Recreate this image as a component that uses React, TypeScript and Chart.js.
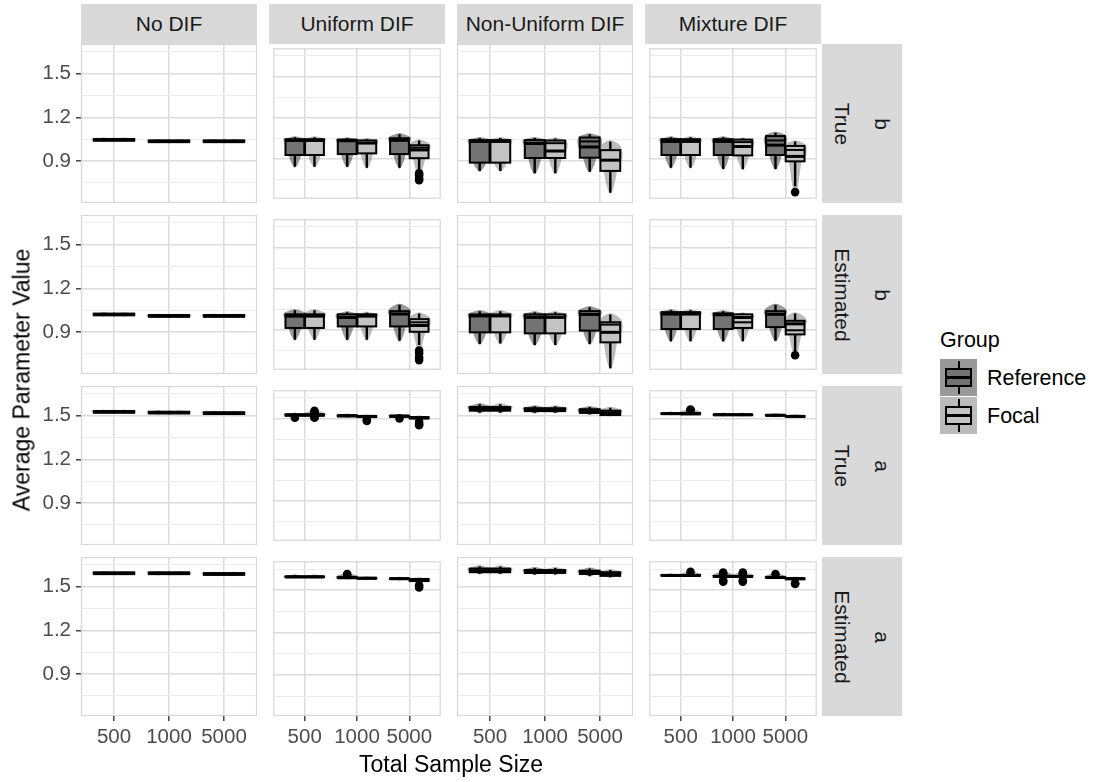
import React, { useEffect, useRef } from 'react';
import { Chart, registerables } from 'chart.js';

Chart.register(...registerables);

const FONT = '"Liberation Sans", Arial, Helvetica, sans-serif';
Chart.defaults.font.family = FONT;

// ---------- categories & labels ----------
const sampleSizes = ['500', '1000', '5000'];
const difTypes = ['No DIF', 'Uniform DIF', 'Non-Uniform DIF', 'Mixture DIF'];
const rowSources = ['True', 'Estimated', 'True', 'Estimated'];
const rowParams = ['b', 'b', 'a', 'a'];
const groupNames = ['Reference', 'Focal'];
const yMajorTicks = [0.9, 1.2, 1.5];
const yTickLabels = ['0.9', '1.2', '1.5'];
const yMinorTicks = [0.75, 1.05, 1.35, 1.65];
const yLimits = [0.61, 1.705];

// ---------- box statistics: [lower whisker, Q1, median, Q3, upper whisker] per sample size ----------
// True b
const tbNoDifRef = [[1.037, 1.039, 1.045, 1.051, 1.053], [1.027, 1.029, 1.035, 1.041, 1.043], [1.027, 1.029, 1.035, 1.041, 1.043]];
const tbNoDifFocal = [[1.037, 1.039, 1.045, 1.051, 1.053], [1.027, 1.029, 1.035, 1.041, 1.043], [1.027, 1.029, 1.035, 1.041, 1.043]];
const tbUniformRef = [[0.842, 0.928, 1.034, 1.043, 1.057], [0.842, 0.935, 1.032, 1.040, 1.050], [0.835, 0.935, 1.035, 1.050, 1.080]];
const tbUniformFocal = [[0.842, 0.928, 1.034, 1.043, 1.057], [0.835, 0.940, 1.015, 1.034, 1.045], [0.810, 0.905, 0.965, 0.999, 1.034]];
const tbUniformFocalMean = [null, null, 0.982];
const tbUniformFocalOut = [[], [], [0.795, 0.78, 0.76, 0.745]];
const tbNonUniformRef = [[0.831, 0.888, 1.034, 1.043, 1.057], [0.815, 0.920, 1.020, 1.043, 1.057], [0.826, 0.922, 0.996, 1.061, 1.083]];
const tbNonUniformRefMean = [null, null, 1.034];
const tbNonUniformFocal = [[0.831, 0.888, 1.034, 1.043, 1.057], [0.815, 0.920, 0.968, 1.040, 1.055], [0.680, 0.831, 0.905, 0.974, 1.034]];
const tbNonUniformFocalMean = [null, 1.022, null];
const tbMixtureRef = [[0.835, 0.928, 1.027, 1.043, 1.057], [0.826, 0.928, 1.027, 1.043, 1.057], [0.826, 0.928, 1.000, 1.066, 1.090]];
const tbMixtureRefMean = [null, null, 1.034];
const tbMixtureFocal = [[0.835, 0.928, 1.027, 1.043, 1.057], [0.825, 0.925, 0.990, 1.040, 1.048], [0.700, 0.882, 0.918, 0.994, 1.027]];
const tbMixtureFocalMean = [null, 1.022, 0.965];
const tbMixtureFocalOut = [[], [], [0.658]];

// Estimated b
const ebNoDifRef = [[1.012, 1.014, 1.020, 1.026, 1.028], [1.002, 1.004, 1.010, 1.016, 1.018], [1.002, 1.004, 1.010, 1.016, 1.018]];
const ebNoDifFocal = [[1.012, 1.014, 1.020, 1.026, 1.028], [1.002, 1.004, 1.010, 1.016, 1.018], [1.002, 1.004, 1.010, 1.016, 1.018]];
const ebUniformRef = [[0.828, 0.914, 1.000, 1.013, 1.043], [0.828, 0.925, 0.990, 1.013, 1.029], [0.820, 0.925, 1.015, 1.036, 1.082]];
const ebUniformFocal = [[0.828, 0.914, 1.000, 1.013, 1.043], [0.828, 0.925, 1.000, 1.013, 1.025], [0.790, 0.886, 0.932, 0.978, 1.020]];
const ebUniformFocalMean = [null, null, 0.955];
const ebUniformFocalOut = [[], [], [0.75, 0.73, 0.70, 0.68]];
const ebNonUniformRef = [[0.817, 0.897, 1.010, 1.020, 1.043], [0.810, 0.890, 1.000, 1.020, 1.036], [0.817, 0.909, 1.020, 1.043, 1.070]];
const ebNonUniformFocal = [[0.820, 0.897, 1.010, 1.020, 1.043], [0.810, 0.890, 1.000, 1.020, 1.036], [0.650, 0.828, 0.897, 0.966, 1.020]];
const ebNonUniformFocalMean = [null, null, 0.950];
const ebMixtureRef = [[0.817, 0.906, 1.015, 1.029, 1.043], [0.817, 0.906, 1.010, 1.020, 1.036], [0.820, 0.920, 1.013, 1.036, 1.082]];
const ebMixtureFocal = [[0.817, 0.906, 1.015, 1.029, 1.043], [0.817, 0.914, 0.990, 1.013, 1.020], [0.740, 0.867, 0.944, 0.966, 1.020]];
const ebMixtureFocalMean = [null, 0.955, 0.897];
const ebMixtureFocalOut = [[], [], [0.715]];

// True a
const taNoDifRef = [[1.519, 1.521, 1.527, 1.533, 1.535], [1.514, 1.516, 1.522, 1.528, 1.530], [1.510, 1.512, 1.518, 1.524, 1.526]];
const taNoDifFocal = [[1.519, 1.521, 1.527, 1.533, 1.535], [1.514, 1.516, 1.522, 1.528, 1.530], [1.510, 1.512, 1.518, 1.524, 1.526]];
const taUniformRef = [[1.515, 1.520, 1.525, 1.530, 1.535], [1.510, 1.515, 1.520, 1.523, 1.527], [1.508, 1.512, 1.517, 1.520, 1.525]];
const taUniformRefOut = [[1.505], [], [1.500]];
const taUniformFocal = [[1.515, 1.520, 1.525, 1.530, 1.540], [1.505, 1.510, 1.515, 1.518, 1.520], [1.495, 1.500, 1.505, 1.510, 1.515]];
const taUniformFocalOut = [[1.555, 1.545, 1.510, 1.505], [1.490, 1.482], [1.475, 1.460, 1.450]];
const taNonUniformRef = [[1.520, 1.535, 1.548, 1.560, 1.580], [1.520, 1.532, 1.540, 1.552, 1.565], [1.510, 1.520, 1.525, 1.545, 1.560]];
const taNonUniformRefMean = [null, null, 1.535];
const taNonUniformFocal = [[1.520, 1.535, 1.548, 1.560, 1.580], [1.520, 1.532, 1.540, 1.552, 1.565], [1.500, 1.505, 1.520, 1.535, 1.555]];
const taMixtureRef = [[1.528, 1.532, 1.535, 1.538, 1.542], [1.520, 1.524, 1.527, 1.530, 1.535], [1.515, 1.520, 1.523, 1.526, 1.530]];
const taMixtureFocal = [[1.525, 1.530, 1.535, 1.540, 1.545], [1.520, 1.524, 1.527, 1.530, 1.535], [1.508, 1.512, 1.515, 1.518, 1.525]];
const taMixtureFocalOut = [[1.565, 1.560], [], []];

// Estimated a
const eaNoDifRef = [[1.585, 1.587, 1.593, 1.599, 1.601], [1.585, 1.587, 1.593, 1.599, 1.601], [1.580, 1.582, 1.588, 1.594, 1.596]];
const eaNoDifFocal = [[1.585, 1.587, 1.593, 1.599, 1.601], [1.585, 1.587, 1.593, 1.599, 1.601], [1.580, 1.582, 1.588, 1.594, 1.596]];
const eaUniformRef = [[1.588, 1.592, 1.595, 1.598, 1.605], [1.582, 1.586, 1.589, 1.592, 1.597], [1.575, 1.579, 1.582, 1.585, 1.588]];
const eaUniformRefOut = [[], [1.615, 1.610], []];
const eaUniformFocal = [[1.588, 1.592, 1.595, 1.598, 1.605], [1.578, 1.582, 1.585, 1.588, 1.592], [1.560, 1.565, 1.570, 1.580, 1.585]];
const eaUniformFocalOut = [[], [], [1.535, 1.520]];
const eaNonUniformRef = [[1.590, 1.600, 1.610, 1.625, 1.640], [1.585, 1.595, 1.605, 1.615, 1.630], [1.575, 1.588, 1.598, 1.610, 1.625]];
const eaNonUniformFocal = [[1.590, 1.600, 1.610, 1.625, 1.640], [1.585, 1.595, 1.605, 1.615, 1.630], [1.565, 1.575, 1.590, 1.600, 1.615]];
const eaMixtureRef = [[1.598, 1.602, 1.605, 1.608, 1.612], [1.590, 1.595, 1.598, 1.601, 1.605], [1.585, 1.588, 1.590, 1.593, 1.598]];
const eaMixtureRefOut = [[], [1.625, 1.615, 1.570, 1.560], [1.615]];
const eaMixtureFocal = [[1.598, 1.602, 1.605, 1.608, 1.615], [1.590, 1.595, 1.598, 1.601, 1.605], [1.575, 1.578, 1.582, 1.585, 1.590]];
const eaMixtureFocalOut = [[1.630], [1.625, 1.615, 1.570, 1.560], [1.550, 1.545]];

type GroupSeries = { stats: number[][]; out?: number[][]; mean?: (number | null)[] };
type PanelSpec = [GroupSeries, GroupSeries];

// rows: True b, Estimated b, True a, Estimated a; columns follow difTypes
const panelGrid: PanelSpec[][] = [
  [
    [{ stats: tbNoDifRef }, { stats: tbNoDifFocal }],
    [{ stats: tbUniformRef }, { stats: tbUniformFocal, out: tbUniformFocalOut, mean: tbUniformFocalMean }],
    [{ stats: tbNonUniformRef, mean: tbNonUniformRefMean }, { stats: tbNonUniformFocal, mean: tbNonUniformFocalMean }],
    [{ stats: tbMixtureRef, mean: tbMixtureRefMean }, { stats: tbMixtureFocal, out: tbMixtureFocalOut, mean: tbMixtureFocalMean }],
  ],
  [
    [{ stats: ebNoDifRef }, { stats: ebNoDifFocal }],
    [{ stats: ebUniformRef }, { stats: ebUniformFocal, out: ebUniformFocalOut, mean: ebUniformFocalMean }],
    [{ stats: ebNonUniformRef }, { stats: ebNonUniformFocal, mean: ebNonUniformFocalMean }],
    [{ stats: ebMixtureRef }, { stats: ebMixtureFocal, out: ebMixtureFocalOut, mean: ebMixtureFocalMean }],
  ],
  [
    [{ stats: taNoDifRef }, { stats: taNoDifFocal }],
    [{ stats: taUniformRef, out: taUniformRefOut }, { stats: taUniformFocal, out: taUniformFocalOut }],
    [{ stats: taNonUniformRef, mean: taNonUniformRefMean }, { stats: taNonUniformFocal }],
    [{ stats: taMixtureRef }, { stats: taMixtureFocal, out: taMixtureFocalOut }],
  ],
  [
    [{ stats: eaNoDifRef }, { stats: eaNoDifFocal }],
    [{ stats: eaUniformRef, out: eaUniformRefOut }, { stats: eaUniformFocal, out: eaUniformFocalOut }],
    [{ stats: eaNonUniformRef }, { stats: eaNonUniformFocal }],
    [{ stats: eaMixtureRef, out: eaMixtureRefOut }, { stats: eaMixtureFocal, out: eaMixtureFocalOut }],
  ],
];

// ---------- styling ----------
const boxFills = ['#737373', '#c3c3c3'];
const violinFills = ['rgba(51,51,51,0.5)', 'rgba(120,120,120,0.5)'];
const dodge = [-0.1875, 0.1875];
const BOX_HALF = 0.18;
const VIOLIN_HALF = 0.23;
const GRID_MAJOR = '#dcdcdc';
const GRID_MINOR = '#ececec';
const PANEL_BORDER = '#d6d6d6';
const STRIP_BG = '#d9d9d9';

// ---------- layout ----------
const PANEL_X0 = 81;
const PANEL_Y0 = 44;
const PANEL_W = 176;
const PANEL_H = 159;
const GAP_X = 12;
const GAP_Y = 12;
const Y_AXIS_W = 81;
const X_AXIS_H = 50;
const panelLeft = (c: number) => PANEL_X0 + c * (PANEL_W + GAP_X);
const panelTop = (r: number) => PANEL_Y0 + r * (PANEL_H + GAP_Y);

// half-width profile of a violin (value, fraction of max half-width), top to bottom
function violinOutline(stats: number[], outs: number[]): [number, number][] {
  const [lo, q1, med, q3, hi] = stats;
  const ext = [lo, hi, ...outs];
  const top = Math.max(...ext);
  const bot = Math.min(...ext);
  const peak = q3 - (q3 - med) * 0.3;
  const raw: [number, number][] = [
    [top, 0.35],
    [(top + q3) / 2, 0.85],
    [peak, 1],
    [med, 0.92],
    [(med + q1) / 2, 0.7],
    [q1, 0.52],
    [(q1 + lo) / 2, 0.38],
    [lo, 0.24],
    [bot, 0.1],
  ];
  const pts: [number, number][] = [];
  for (const p of raw) {
    if (!pts.length || pts[pts.length - 1][0] - p[0] > 1e-4) pts.push([p[0], p[1]]);
  }
  pts[pts.length - 1][1] = Math.min(pts[pts.length - 1][1], 0.12);
  return pts;
}

function smoothClosed(ctx: CanvasRenderingContext2D, P: [number, number][]) {
  const n = P.length;
  const mid = (a: [number, number], b: [number, number]) => [(a[0] + b[0]) / 2, (a[1] + b[1]) / 2];
  const m0 = mid(P[n - 1], P[0]);
  ctx.beginPath();
  ctx.moveTo(m0[0], m0[1]);
  for (let i = 0; i < n; i++) {
    const next = P[(i + 1) % n];
    const m = mid(P[i], next);
    ctx.quadraticCurveTo(P[i][0], P[i][1], m[0], m[1]);
  }
  ctx.closePath();
}

function makeBoxViolinPlugin(spec: PanelSpec) {
  return {
    id: 'boxViolin',
    beforeDatasetsDraw(chart: any) {
      const ctx: CanvasRenderingContext2D = chart.ctx;
      const xs = chart.scales.x;
      const ys = chart.scales.y;
      const area = chart.chartArea;
      const unit = xs.getPixelForValue(1) - xs.getPixelForValue(0);
      ctx.save();
      // panel border
      ctx.strokeStyle = PANEL_BORDER;
      ctx.lineWidth = 1.2;
      ctx.strokeRect(area.left + 0.5, area.top + 0.5, area.right - area.left - 1, area.bottom - area.top - 1);

      // violins
      spec.forEach((g, gi) => {
        g.stats.forEach((s, k) => {
          const xc = xs.getPixelForValue(k + dodge[gi]);
          const half = VIOLIN_HALF * unit;
          const outline = violinOutline(s, g.out ? g.out[k] : []);
          const right = outline.map(([v, f]) => [xc + f * half, ys.getPixelForValue(v)] as [number, number]);
          const left = outline.slice().reverse().map(([v, f]) => [xc - f * half, ys.getPixelForValue(v)] as [number, number]);
          const poly: [number, number][] = [
            [xc, ys.getPixelForValue(outline[0][0]) - 1.5],
            ...right,
            [xc, ys.getPixelForValue(outline[outline.length - 1][0]) + 1],
            ...left,
          ];
          ctx.fillStyle = violinFills[gi];
          smoothClosed(ctx, poly);
          ctx.fill();
        });
      });

      // boxes, whiskers, medians
      spec.forEach((g, gi) => {
        g.stats.forEach((s, k) => {
          const [lo, q1, med, q3, hi] = s.map((v) => ys.getPixelForValue(v));
          const xc = xs.getPixelForValue(k + dodge[gi]);
          const half = BOX_HALF * unit;
          ctx.strokeStyle = '#000';
          ctx.lineCap = 'butt';
          ctx.lineWidth = 2.4;
          ctx.beginPath();
          ctx.moveTo(xc, q3);
          ctx.lineTo(xc, hi);
          ctx.moveTo(xc, q1);
          ctx.lineTo(xc, lo);
          ctx.stroke();
          ctx.fillStyle = boxFills[gi];
          ctx.fillRect(xc - half, q3, 2 * half, q1 - q3);
          ctx.lineWidth = 2;
          ctx.strokeRect(xc - half, q3, 2 * half, q1 - q3);
          ctx.lineWidth = 3;
          ctx.beginPath();
          ctx.moveTo(xc - half, med);
          ctx.lineTo(xc + half, med);
          ctx.stroke();
          const m = g.mean ? g.mean[k] : null;
          if (m != null) {
            const my = ys.getPixelForValue(m);
            ctx.lineWidth = 2;
            ctx.beginPath();
            ctx.moveTo(xc - half, my);
            ctx.lineTo(xc + half, my);
            ctx.stroke();
          }
        });
      });
      ctx.restore();
    },
  };
}

function PanelChart({ r, c }: { r: number; c: number }) {
  const ref = useRef<HTMLCanvasElement>(null);
  const leftPad = c === 0 ? Y_AXIS_W : 0;
  const bottomPad = r === panelGrid.length - 1 ? X_AXIS_H : 0;
  const w = PANEL_W + leftPad;
  const h = PANEL_H + bottomPad;

  useEffect(() => {
    const spec = panelGrid[r][c];
    const datasets = spec.map((g, gi) => ({
      label: groupNames[gi],
      data: (g.out || []).flatMap((vals, k) => vals.map((v) => ({ x: k + dodge[gi], y: v }))),
      pointRadius: 4.3,
      pointBackgroundColor: '#000',
      pointBorderWidth: 0,
      clip: false as any,
    }));
    const chart = new Chart(ref.current!, {
      type: 'scatter',
      data: { datasets },
      options: {
        animation: false,
        responsive: false,
        maintainAspectRatio: false,
        devicePixelRatio: 1,
        events: [],
        layout: { padding: 0 },
        plugins: { legend: { display: false }, tooltip: { enabled: false } },
        scales: {
          x: {
            type: 'linear',
            position: 'bottom',
            min: -0.6,
            max: 2.6,
            afterBuildTicks: (s: any) => {
              s.ticks = sampleSizes.map((_, i) => ({ value: i }));
            },
            afterFit: (s: any) => {
              s.height = bottomPad;
              s.paddingLeft = 0;
              s.paddingRight = 0;
            },
            border: { display: false },
            grid: {
              color: GRID_MAJOR,
              lineWidth: 1.6,
              drawTicks: bottomPad > 0,
              tickLength: 5,
              tickColor: '#333333',
              tickWidth: 1.4,
            },
            ticks: {
              display: bottomPad > 0,
              autoSkip: false,
              maxRotation: 0,
              padding: 4,
              color: '#4d4d4d',
              font: { size: 20.5, family: FONT },
              callback: (v: any) => sampleSizes[Math.round(Number(v))] ?? '',
            },
          },
          y: {
            type: 'linear',
            position: 'left',
            min: yLimits[0],
            max: yLimits[1],
            afterBuildTicks: (s: any) => {
              s.ticks = [...yMinorTicks, ...yMajorTicks].sort((a, b) => a - b).map((v) => ({ value: v }));
            },
            afterFit: (s: any) => {
              s.width = leftPad;
              s.paddingTop = 0;
              s.paddingBottom = 0;
            },
            border: { display: false },
            grid: {
              color: (ctx: any) => (yMajorTicks.includes(ctx.tick?.value) ? GRID_MAJOR : GRID_MINOR),
              lineWidth: (ctx: any) => (yMajorTicks.includes(ctx.tick?.value) ? 1.6 : 1),
              drawTicks: leftPad > 0,
              tickLength: 5,
              tickColor: (ctx: any) => (yMajorTicks.includes(ctx.tick?.value) ? '#333333' : 'rgba(0,0,0,0)'),
              tickWidth: 1.4,
            },
            ticks: {
              display: leftPad > 0,
              autoSkip: false,
              padding: 5,
              color: '#4d4d4d',
              font: { size: 20.5, family: FONT },
              callback: (v: any) => {
                const i = yMajorTicks.findIndex((t) => Math.abs(t - Number(v)) < 1e-9);
                return i >= 0 ? yTickLabels[i] : '';
              },
            },
          },
        },
      },
      plugins: [makeBoxViolinPlugin(spec)],
    } as any);
    return () => chart.destroy();
  }, [r, c]);

  return (
    <canvas
      ref={ref}
      width={w}
      height={h}
      style={{ position: 'absolute', left: panelLeft(c) - leftPad, top: panelTop(r), width: w, height: h }}
    />
  );
}

function LegendKey({ gi, top }: { gi: number; top: number }) {
  return (
    <div style={{ position: 'absolute', left: 940, top, width: 37, height: 37, background: violinFills[gi] }}>
      <div style={{ position: 'absolute', left: 17.5, top: 2, width: 2, height: 33, background: '#000' }} />
      <div
        style={{
          position: 'absolute',
          left: 5,
          top: 9,
          width: 23,
          height: 15,
          background: boxFills[gi],
          border: '2px solid #000',
        }}
      />
      <div style={{ position: 'absolute', left: 5, top: 17, width: 27, height: 3, background: '#000' }} />
    </div>
  );
}

export default function App() {
  const stripText: React.CSSProperties = { fontSize: 21, color: '#1a1a1a', whiteSpace: 'nowrap' };
  return (
    <div
      style={{
        position: 'absolute',
        left: 0,
        top: 0,
        width: 1095,
        height: 782,
        background: '#ffffff',
        fontFamily: FONT,
        overflow: 'hidden',
      }}
    >
      {difTypes.map((name, c) => (
        <div
          key={name}
          style={{
            position: 'absolute',
            left: panelLeft(c),
            top: 4,
            width: PANEL_W,
            height: PANEL_Y0 - 4,
            background: STRIP_BG,
            display: 'flex',
            alignItems: 'center',
            justifyContent: 'center',
          }}
        >
          <span style={stripText}>{name}</span>
        </div>
      ))}
      {rowSources.map((src, r) => (
        <React.Fragment key={r}>
          <div
            style={{
              position: 'absolute',
              left: panelLeft(3) + PANEL_W + 1,
              top: panelTop(r),
              width: 40,
              height: PANEL_H,
              background: STRIP_BG,
              display: 'flex',
              alignItems: 'center',
              justifyContent: 'center',
            }}
          >
            <span style={{ ...stripText, transform: 'rotate(90deg)' }}>{src}</span>
          </div>
          <div
            style={{
              position: 'absolute',
              left: panelLeft(3) + PANEL_W + 41,
              top: panelTop(r),
              width: 40,
              height: PANEL_H,
              background: STRIP_BG,
              display: 'flex',
              alignItems: 'center',
              justifyContent: 'center',
            }}
          >
            <span style={{ ...stripText, transform: 'rotate(90deg)' }}>{rowParams[r]}</span>
          </div>
        </React.Fragment>
      ))}
      {panelGrid.map((row, r) => row.map((_, c) => <PanelChart key={`${r}-${c}`} r={r} c={c} />))}
      <div
        style={{
          position: 'absolute',
          left: 22,
          top: 380,
          transform: 'translate(-50%, -50%) rotate(-90deg)',
          fontSize: 23,
          color: '#000',
          whiteSpace: 'nowrap',
        }}
      >
        Average Parameter Value
      </div>
      <div
        style={{
          position: 'absolute',
          left: 451,
          top: 764,
          transform: 'translate(-50%, -50%)',
          fontSize: 23,
          color: '#000',
          whiteSpace: 'nowrap',
        }}
      >
        Total Sample Size
      </div>
      <div style={{ position: 'absolute', left: 940, top: 340, transform: 'translateY(-50%)', fontSize: 21.5, color: '#000' }}>
        Group
      </div>
      {groupNames.map((g, gi) => (
        <React.Fragment key={g}>
          <LegendKey gi={gi} top={359 + gi * 38} />
          <div
            style={{
              position: 'absolute',
              left: 987,
              top: 377.5 + gi * 38,
              transform: 'translateY(-50%)',
              fontSize: 21.5,
              color: '#000',
              whiteSpace: 'nowrap',
            }}
          >
            {g}
          </div>
        </React.Fragment>
      ))}
    </div>
  );
}
